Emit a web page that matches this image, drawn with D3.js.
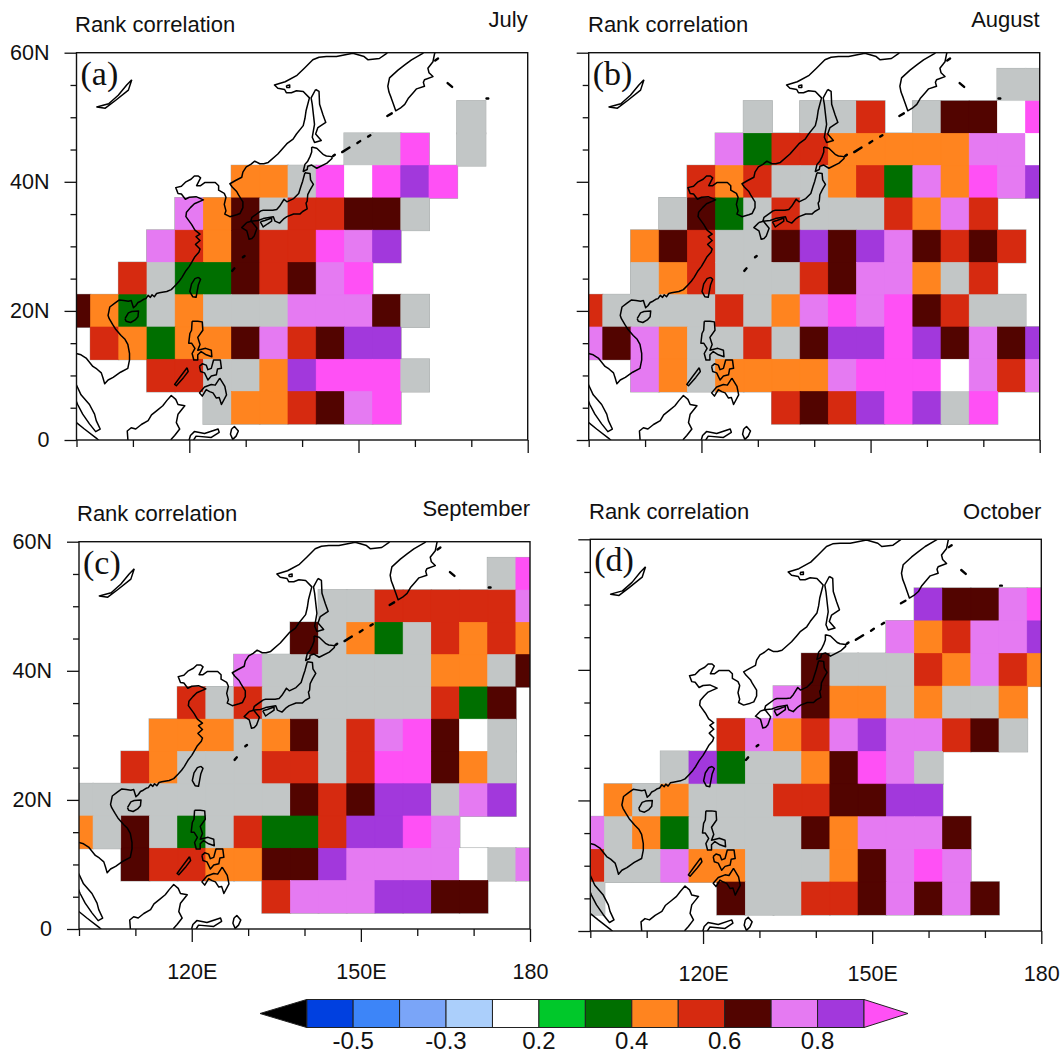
<!DOCTYPE html>
<html>
<head>
<meta charset="utf-8">
<style>
	html, body { margin: 0; padding: 0; background: #fff; }
	svg { display: block; }
	text { font-family: "Liberation Sans", Arial, sans-serif; fill: #111; }
	.panel-letter { font-family: "Liberation Serif", serif; }
</style>
</head>
<body>
<div id="chart"></div>
<script src="https://cdn.jsdelivr.net/npm/d3@7"></script>
<script>
const WIDTH = 1063;
const HEIGHT = 1054;

const months = ['July', 'August', 'September', 'October'];
const letters = ['(a)', '(b)', '(c)', '(d)'];

// grid centres
const lons = [100, 105, 110, 115, 120, 125, 130, 135, 140, 145, 150, 155, 160, 165, 170, 175, 180];
const lats = [55, 50, 45, 40, 35, 30, 25, 20, 15, 10, 5];

// one letter per cell. '.' is no data
const julyRows = [
	'.................',
	'..............g..',
	'..........ggM.g..',
	'......OOgMwMPM...',
	'....LOBgRRBBg....',
	'...LROBRRMLP.....',
	'..RgGGBRBLM......',
	'BOGgOgggLLLBg....',
	'.ROGOOBLRBPP.....',
	'...RRggOPMMMg....',
	'.....gOORBLM.....'
];
const augustRows = [
	'...............gg',
	'......g.ggR.gBBwM',
	'.....LGRROOOOOLLw',
	'....RORggORGLOMLP',
	'...gBGgRgggROLR..',
	'..OBRggBPBPLBRBR.',
	'..gORgggRBLLOgR..',
	'RggggRgOLMLMBRgg.',
	'LBLOggRgBPPMPBLBP',
	'..LOgOOOOLMMMwLRL',
	'.......RBRPMPgM..'
];
const septemberRows = [
	'...............gM',
	'.........ggRRRRRL',
	'........BgOGgRORO',
	'......LggggggOOgB',
	'....RgRggggggRGB.',
	'...OOOgOBgRLMBwg.',
	'..ROgggRRgRMMBOg.',
	'ggggggggBRBPPgLP.',
	'OgBgGgRGGRPPML...',
	'..BRROOBBPLLLLwgL',
	'.......RLLLPPBB..'
];
const octoberRows = [
	'.................',
	'............PBBLM',
	'...........LORLLP',
	'........BgggROLRO',
	'.......LBOOgOggO.',
	'.....RLORLPLLRBg.',
	'...gPGggOBMLg....',
	'.OgOgggRRBBPP....',
	'LgOGggggBOLLLB...',
	'RggLOOgggOBLML...',
	'g....BggRRBLBLB..'
];

const cellCodes = ['w', 'g', 'G', 'O', 'R', 'B', 'L', 'P', 'M'];
const cellColors = ['#ffffff', '#c2c6c6', '#006f00', '#ff841f', '#d62a10', '#520400', '#e57af2', '#a238dc', '#ff50f5'];

const legendColors = ['#0040e0', '#3d85f8', '#7aa5f8', '#abcffb', '#ffffff', '#00c82a', '#006f00', '#ff841f', '#d62a10', '#520400', '#e57af2', '#a238dc'];
const legendHigh = '#ff50f5';
const legendLow = '#000000';
const legendLabels = ['-0.5', '-0.3', '0.2', '0.4', '0.6', '0.8'];

// Coastlines as lon, lat
const mainland = [[99,13.4],[99.95,13.4],[100.8,13.2],[101.7,12.7],[102.9,11.4],[103.6,11],[104.4,10.4],[104.7,9.6],[105,8.7],[105.6,9.3],[106.5,9.7],[107.8,10.5],[109.1,11.1],[109.4,12.4],[109.4,13.4],[109.1,14.8],[108.6,15.6],[107.9,16.2],[106.9,17.2],[106.4,17.9],[105.8,18.8],[105.6,19.3],[105.9,20.6],[106.8,21.2],[107.6,21.7],[108.4,21.6],[109.2,21.5],[109.7,21.6],[110.1,20.5],[110.5,20.8],[110.9,21.3],[111.4,21.5],[111.9,21.8],[112.3,21.9],[112.7,22.4],[113.1,22.1],[113.4,22.5],[113.8,22.2],[114.2,22.7],[114.7,22.8],[116,23],[116.8,23.3],[117.6,24],[118.2,24.6],[118.7,25.2],[119.3,26.1],[120,26.9],[120.6,27.8],[121,28.4],[121.7,29.1],[121.9,29.6],[121.1,30.3],[121.9,30.9],[121.2,31.5],[121.9,31.9],[121,32.5],[120.4,33.4],[119.4,34.6],[119.5,35.3],[120.2,36],[120.9,36.6],[122.5,37.2],[121.2,37.7],[120,37.6],[119.3,37.3],[118.6,38.1],[118,38.2],[117.6,39.1],[118.6,39.3],[119.4,40],[120.3,40.4],[120.9,40.9],[121.6,40.9],[122,40.6],[121.3,39.4],[122,39.4],[122.8,39.9],[123.7,39.9],[124.6,39.9],[125.2,39.4],[125.2,38.7],[126.2,38.2],[126.5,37.6],[126.2,36.5],[126.5,35.5],[126.3,35],[127.2,34.6],[128.4,34.9],[129,35.1],[129.5,36],[129.5,36.9],[128.7,38],[128.4,38.5],[127.6,39.2],[127.2,39.7],[128.2,40.2],[129.3,40.7],[129.5,41.5],[130.1,42.3],[130.9,42.7],[131.6,43.2],[132.5,42.8],[133.2,42.8],[134,43],[135.7,44.3],[136.6,45.2],[137.3,45.9],[138.4,46.6],[139,47.4],[140.2,48.7],[140.5,49.8],[140.7,51],[141.3,53],[140.2,54],[139,54.1],[138.1,53.8],[137.2,53.8],[136.9,54.3],[135.7,54.5],[135.1,55],[137,55.5],[139.1,56.5],[140.4,57.6],[141.9,58.9],[143,59.3],[144.3,59.4],[146.1,59.4],[149,59.9],[151,59.4],[151.7,58.9],[153.7,59.1],[155,59.9],[156,61]];
const kamchatka = [[161.9,60.5],[161.4,59.9],[159.4,58.9],[158.2,58.1],[157,57.3],[155.5,56.1],[155.2,54.8],[155.4,53.9],[155.8,53],[156.2,52],[156.6,51],[157.4,51.4],[158.2,52],[158.8,52.9],[159.7,53.8],[160.3,54.4],[161.7,54.8],[161.5,55.4],[161.7,55.8],[163.2,56.3],[162.5,56.9],[162.3,57.6],[163.2,58.6],[163.5,59.9],[164,60.5]];
const sakhalin = [[142.4,54.3],[143,54],[143.1,52],[143.7,50.4],[144.2,49.2],[142.8,48.4],[142.4,47.4],[143.4,46.4],[142.2,46.1],[141.8,46.9],[142.2,48.9],[141.8,52],[141.6,53],[142.4,54.3]];
const shantar = [[137.2,54.9],[137.8,55],[137.8,54.6],[137.3,54.6],[137.2,54.9]];
const hokkaido = [[141.7,45.4],[141.7,44.6],[141.4,43.9],[141,43.2],[140.5,42.7],[140.2,41.6],[140.9,41.9],[141,42.4],[141.7,42.6],[142.6,42.1],[144.4,42.9],[145.3,43.6],[145.3,43.9],[144.3,44],[143.8,44.2],[142.6,45.2],[141.7,45.4]];
const honshu = [[140.5,41.4],[141.4,41.3],[141.5,40.3],[142,39.6],[141.4,38.7],[141,38],[140.9,37],[140.7,36.7],[140.9,35.8],[140.1,35.4],[139.6,35],[138.5,35],[137.3,34.6],[136.8,34.3],[136,33.6],[135.2,33.9],[134.9,34.6],[133.1,34.3],[132.2,34],[130.9,33.9],[131.1,34.5],[132.7,35.5],[133.1,35.6],[134.8,35.6],[135.5,35.7],[136,36.2],[136.8,37.3],[137.3,36.9],[138.5,37.4],[139.4,38.2],[139.8,39.3],[140.1,40.1],[140.5,41.4]];
const kyushu = [[130.2,33.7],[131,33.9],[132,32.8],[131.5,31.6],[131.1,31.2],[130.6,31.1],[130.2,32.4],[129.3,32.9],[130.2,33.7]];
const shikoku = [[132.6,33.8],[133.4,34],[134.6,34.4],[134.6,33.9],[133.9,33.5],[133.1,33],[132.6,33.8]];
const hainan = [[108.6,18.8],[109.2,19.7],[109.8,19.9],[111,20],[110.9,19.1],[110.4,18.6],[109.6,18.2],[108.8,18.4],[108.6,18.8]];
const taiwan = [[121.6,25.2],[122,24.9],[121.6,24],[121.2,22.1],[120.6,22.2],[120.1,23],[120.4,24.2],[121,25],[121.6,25.2]];
const luzon = [[120.5,18.4],[121.5,18.4],[122.3,18.3],[122.4,17],[121.5,15.9],[121.9,14.8],[121.5,13.9],[122.9,14.2],[123.9,13.9],[124,12.9],[123,13.2],[122.1,13.7],[121.5,13.2],[121.5,12.4],[120.8,12.4],[120.5,13.4],[121,14.2],[120.4,15],[119.9,15],[120.1,16.5],[120.4,17],[120.5,18.4]];
const visayas = [[121.8,11.4],[122.3,11.8],[123,11.6],[123.3,10.9],[123.9,11.1],[124.3,12.4],[125.5,12.4],[125.7,11.1],[125,11],[124.8,10.1],[123.9,9.9],[123.3,9.3],[122.7,10.4],[122,10.6],[121.8,11.4]];
const mindanao = [[125.4,9.6],[126.3,8.3],[126.6,7],[125.7,5.5],[125.3,6.6],[124.8,6.5],[124.2,7.3],[123.6,7.5],[123,7.8],[122.3,6.8],[121.8,7.3],[122.7,8.2],[123.9,8.6],[124.6,8.5],[125.4,9.6]];
const palawan = [[119.6,11.2],[118.4,9.8],[117.4,8.6],[117.7,8.4],[119,9.7],[119.8,10.6],[119.6,11.2]];
const borneo = [[109.2,-1],[109,1.4],[109.7,1.9],[110.5,1.7],[111.5,2.4],[112.7,3],[113.3,3.9],[114.3,4.6],[115.3,5.3],[116,6.1],[116.8,6.9],[117.6,6.3],[118,5.5],[119.2,5.3],[118,4],[117.7,2.7],[118.3,1.7],[117.4,0.7],[116.8,0.1],[116.5,-1]];
const sulawesi = [[119.8,-0.5],[120.2,0.7],[120.9,1.3],[122.7,1],[125.1,1.7],[125.3,1.2],[123.9,0.4],[121.2,0.6],[120.4,-0.5]];
const halmahera = [[127.5,1.7],[128,2.1],[128.7,1.4],[128.3,0.6],[127.7,0.1],[127.3,0.9],[127.5,1.7]];
const malaya = [[99.95,8.6],[100.8,7],[102.3,5.5],[103.2,4],[103.5,3],[104.2,1.7],[103.4,1.3],[102.3,2.5],[101.1,4],[100.2,5.5],[99.6,6.8]];
const sumatra = [[99.7,2.9],[101.4,1.7],[103.5,0.3],[104,-0.1]];
const baikal = [[109.8,55.8],[109.2,54.2],[106.9,52.6],[105.1,51.4],[103.6,51.6],[105.7,52.1],[107.4,53.4],[108.9,55],[109.8,55.8]];
const coastLines = [mainland, kamchatka, sakhalin, shantar, hokkaido, honshu, kyushu, shikoku, hainan, taiwan, luzon, visayas, mindanao, palawan, borneo, sulawesi, halmahera, malaya, sumatra, baikal];

// small islands drawn as short thick dashes
const dashes = [
	[[163.6,58.8],[164.1,59.1]],
	[[165.8,55.3],[166.6,54.7]],
	[[172.7,52.9],[173,52.9]],
	[[155.1,50.2],[155.9,50.6]],
	[[151.7,47],[152.1,47.2]],
	[[149.8,46],[150.3,46.3]],
	[[147.1,44.6],[148.4,45.3]],
	[[145.5,44],[145.8,44.2]],
	[[129.5,28.3],[129.8,28.5]],
	[[127.6,26.2],[128,26.6]]
];

const xMinor = [100, 110, 130, 140, 160, 170];
const xMajor = [120, 150, 180];
const yMinor = [5, 10, 15, 25, 30, 35, 45, 50, 55];
const yMajor = [0, 20, 40, 60];
const yLabels = {0: '0', 20: '20N', 40: '40N', 60: '60N'};

const panelRows = [julyRows, augustRows, septemberRows, octoberRows];
const panelBoxes = [
	{left: 76.5, right: 527.7, top: 52.7, bottom: 440},
	{left: 588.7, right: 1039.7, top: 52.7, bottom: 440},
	{left: 79, right: 530, top: 541.7, bottom: 929},
	{left: 590.3, right: 1041.3, top: 539.3, bottom: 931}
];
const titlePos = [
	{x: 75, y: 32, ry: 27},
	{x: 588, y: 32, ry: 27},
	{x: 77, y: 521, ry: 516},
	{x: 589, y: 519, ry: 519}
];

const svg = d3.select('#chart').append('svg')
	.attr('width', WIDTH)
	.attr('height', HEIGHT);

const cellColor = d3.scaleOrdinal(cellCodes, cellColors);

function drawPanel(i) {
	const box = panelBoxes[i];
	const x = d3.scaleLinear().domain([100, 180]).range([box.left, box.right]);
	const y = d3.scaleLinear().domain([0, 60]).range([box.bottom, box.top]);
	const clipId = `clip-${i}`;

	const g = svg.append('g');
	g.append('clipPath').attr('id', clipId)
		.append('rect')
		.attr('x', box.left).attr('y', box.top)
		.attr('width', box.right - box.left)
		.attr('height', box.bottom - box.top);

	const map = g.append('g').attr('clip-path', `url(#${clipId})`);

	// Flatten the rows to cells
	const cells = [];
	panelRows[i].forEach((row, r) => {
		row.split('').forEach((code, c) => {
			if (code !== '.') cells.push({lon: lons[c], lat: lats[r], code});
		});
	});

	const cellRect = sel => sel
		.attr('x', d => x(d.lon - 2.5))
		.attr('y', d => y(d.lat + 2.5))
		.attr('width', d => x(d.lon + 2.5) - x(d.lon - 2.5))
		.attr('height', d => y(d.lat - 2.5) - y(d.lat + 2.5));

	// grey rim goes below the fills so only the outer edge shows
	map.selectAll('rect.rim').data(cells).join('rect')
		.attr('class', 'rim')
		.call(cellRect)
		.attr('fill', 'none')
		.attr('stroke', '#a8acac')
		.attr('stroke-width', 1.8);

	map.selectAll('rect.cell').data(cells).join('rect')
		.attr('class', 'cell')
		.call(cellRect)
		.attr('fill', d => cellColor(d.code));

	// second pass with a hairline closes the seams between neighbours
	map.selectAll('rect.seam').data(cells).join('rect')
		.attr('class', 'seam')
		.call(cellRect)
		.attr('fill', d => cellColor(d.code))
		.attr('stroke', d => cellColor(d.code))
		.attr('stroke-width', 0.7);

	const line = d3.line().x(d => x(d[0])).y(d => y(d[1]));

	map.selectAll('path.coast').data(coastLines).join('path')
		.attr('class', 'coast')
		.attr('d', line)
		.attr('fill', 'none')
		.attr('stroke', '#000')
		.attr('stroke-width', 1.5)
		.attr('stroke-linejoin', 'round');

	map.selectAll('path.dash').data(dashes).join('path')
		.attr('class', 'dash')
		.attr('d', line)
		.attr('fill', 'none')
		.attr('stroke', '#000')
		.attr('stroke-width', 2.4)
		.attr('stroke-linecap', 'round');

	// Frame
	g.append('rect')
		.attr('x', box.left).attr('y', box.top)
		.attr('width', box.right - box.left)
		.attr('height', box.bottom - box.top)
		.attr('fill', 'none')
		.attr('stroke', '#111')
		.attr('stroke-width', 1.4);

	// Axes
	const showX = i >= 2;
	const showY = i === 0 || i === 2;

	const xAxisMinor = d3.axisBottom(x).tickValues(xMinor).tickSize(7).tickFormat('');
	const xAxisMajor = d3.axisBottom(x).tickValues(xMajor).tickSize(13).tickPadding(22)
		.tickFormat(d => showX ? (d === 180 ? '180' : `${d}E`) : '');
	const yAxisMinor = d3.axisLeft(y).tickValues(yMinor).tickSize(6).tickFormat('');
	const yAxisMajor = d3.axisLeft(y).tickValues(yMajor).tickSize(12).tickPadding(14)
		.tickFormat(d => showY ? yLabels[d] : '');

	[xAxisMinor, xAxisMajor].forEach(axis => {
		g.append('g').attr('class', 'x axis')
			.attr('transform', `translate(0, ${box.bottom})`)
			.call(axis);
	});
	[yAxisMinor, yAxisMajor].forEach(axis => {
		g.append('g').attr('class', 'y axis')
			.attr('transform', `translate(${box.left}, 0)`)
			.call(axis);
	});
	g.selectAll('.axis .domain').remove();
	g.selectAll('.axis line').attr('stroke', '#111').attr('stroke-width', 1.3);
	g.selectAll('.axis text').style('font-size', '21.5px').attr('fill', '#111');
	g.selectAll('.y.axis text').attr('dx', '-1');

	// Titles
	g.append('text')
		.attr('x', titlePos[i].x).attr('y', titlePos[i].y)
		.style('font-size', '22px')
		.text('Rank correlation');
	g.append('text')
		.attr('x', box.right).attr('y', titlePos[i].ry)
		.attr('text-anchor', 'end')
		.style('font-size', '22px')
		.text(months[i]);
	g.append('text')
		.attr('class', 'panel-letter')
		.attr('x', box.left + 4).attr('y', box.top + 32)
		.style('font-size', '34px')
		.text(letters[i]);
}

function drawLegend() {
	const boxLeft = 306.7, boxRight = 864, tipLeft = 260, tipRight = 908;
	const top = 999.5, bottom = 1027.5, mid = (top + bottom) / 2;
	const n = legendColors.length;
	const x = d3.scaleLinear().domain([0, n]).range([boxLeft, boxRight]);
	const g = svg.append('g');

	g.selectAll('rect').data(legendColors).join('rect')
		.attr('x', (d, i) => x(i))
		.attr('y', top)
		.attr('width', (d, i) => x(i + 1) - x(i))
		.attr('height', bottom - top)
		.attr('fill', d => d)
		.attr('stroke', '#222')
		.attr('stroke-width', 1);

	g.append('path')
		.attr('d', `M${boxLeft},${top}L${tipLeft},${mid}L${boxLeft},${bottom}Z`)
		.attr('fill', legendLow).attr('stroke', '#222');
	g.append('path')
		.attr('d', `M${boxRight},${top}L${tipRight},${mid}L${boxRight},${bottom}Z`)
		.attr('fill', legendHigh).attr('stroke', '#222');

	// labels sit on every second box edge
	g.selectAll('text').data(legendLabels).join('text')
		.attr('x', (d, i) => x(2 * i + 1))
		.attr('y', 1049)
		.attr('text-anchor', 'middle')
		.style('font-size', '24px')
		.text(d => d);
}

months.forEach((m, i) => drawPanel(i));
drawLegend();
</script>
</body>
</html>
